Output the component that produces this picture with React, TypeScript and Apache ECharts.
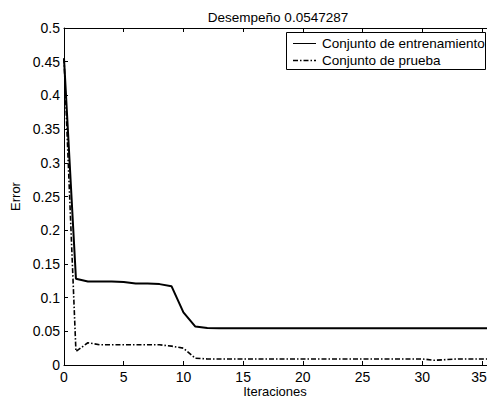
import React, { useEffect, useRef } from "react";
import * as echarts from "echarts";

const iterations = [0, 1, 2, 3, 4, 5, 6, 7, 8, 9, 10, 11, 12, 13, 14, 15, 16, 17, 18, 19, 20, 21, 22, 23, 24, 25, 26, 27, 28, 29, 30, 31, 32, 33, 34, 35, 36];
const trainError = [0.455, 0.128, 0.124, 0.124, 0.124, 0.123, 0.121, 0.121, 0.120, 0.117, 0.078, 0.057, 0.055, 0.0547, 0.0547, 0.0547, 0.0547, 0.0547, 0.0547, 0.0547, 0.0547, 0.0547, 0.0547, 0.0547, 0.0547, 0.0547, 0.0547, 0.0547, 0.0547, 0.0547, 0.0547, 0.0547, 0.0547, 0.0547, 0.0547, 0.0547, 0.0547];
const testError = [0.455, 0.020, 0.033, 0.030, 0.030, 0.030, 0.030, 0.030, 0.030, 0.028, 0.025, 0.010, 0.009, 0.009, 0.009, 0.009, 0.009, 0.009, 0.009, 0.009, 0.009, 0.009, 0.009, 0.009, 0.009, 0.009, 0.009, 0.009, 0.009, 0.009, 0.009, 0.007, 0.008, 0.009, 0.009, 0.009, 0.009];
const seriesNames = ["Conjunto de entrenamiento", "Conjunto de prueba"];
const titleText = "Desempeño 0.0547287";
const xName = "Iteraciones";
const yName = "Error";

export default function App() {
  const ref = useRef<HTMLDivElement>(null);
  useEffect(() => {
    if (!ref.current) return;
    const chart = echarts.init(ref.current, null, { renderer: "svg" });
    const font = "Liberation Sans, Arial, sans-serif";
    const toPairs = (ys: number[]) => iterations.map((x, i) => [x, ys[i]]);
    const dashDot = [5, 2, 1.5, 2];
    chart.setOption({
      animation: false,
      backgroundColor: "#fff",
      textStyle: { fontFamily: font },
      title: {
        text: titleText,
        left: 273,
        top: 5,
        textAlign: "center",
        textStyle: { fontSize: 13.5, fontWeight: "normal", color: "#000", fontFamily: font },
      },
      grid: { left: 64, right: 0, top: 28, bottom: 35, containLabel: false, outerBoundsMode: "none" },
      xAxis: [
        {
          type: "value",
          min: 0,
          max: 35.42,
          interval: 5,
          axisLine: { show: true, lineStyle: { color: "#000", width: 1 } },
          axisTick: { show: true, inside: true, length: 4, lineStyle: { color: "#000" } },
          axisLabel: {
            fontSize: 14,
            color: "#000",
            margin: 5,
            formatter: (v: number) => (v === 35 ? "{e|35}" : String(v)),
            rich: { e: { fontSize: 14, color: "#000", padding: [0, 6, 0, 0] } },
          },
          splitLine: { show: false },
        },
        {
          type: "value",
          position: "top",
          min: 0,
          max: 35.42,
          interval: 5,
          axisLine: { show: true, lineStyle: { color: "#000", width: 1 } },
          axisTick: { show: true, inside: true, length: 4, lineStyle: { color: "#000" } },
          axisLabel: { show: false },
          splitLine: { show: false },
        },
      ],
      yAxis: {
        type: "value",
        min: 0,
        max: 0.5,
        interval: 0.05,
        name: yName,
        nameLocation: "middle",
        nameGap: 38,
        nameTextStyle: { fontSize: 13, color: "#000" },
        axisLine: { show: true, lineStyle: { color: "#000", width: 1 } },
        axisTick: { show: true, inside: true, length: 4, lineStyle: { color: "#000" } },
        axisLabel: {
          fontSize: 14,
          color: "#000",
          margin: 4,
          formatter: (v: number) => String(parseFloat(v.toFixed(2))),
        },
        splitLine: { show: false },
      },
      graphic: [
        {
          type: "text",
          x: 275,
          y: 391,
          style: { text: xName, fill: "#000", font: `13px ${font}`, textAlign: "center", textVerticalAlign: "middle" },
        },
        {
          type: "rect",
          shape: { x: 286.5, y: 32.5, width: 199, height: 37 },
          style: { fill: "#fff", stroke: "#000", lineWidth: 1 },
          z: 10,
        },
        {
          type: "line",
          shape: { x1: 293, y1: 43.5, x2: 316, y2: 43.5 },
          style: { stroke: "#000", lineWidth: 1 },
          z: 11,
        },
        {
          type: "line",
          shape: { x1: 293, y1: 60.5, x2: 316, y2: 60.5 },
          style: { stroke: "#000", lineWidth: 1.6, lineDash: dashDot },
          z: 11,
        },
        {
          type: "text",
          x: 322,
          y: 43,
          style: { text: seriesNames[0], fill: "#000", font: `13.5px ${font}`, textVerticalAlign: "middle" },
          z: 11,
        },
        {
          type: "text",
          x: 322,
          y: 60,
          style: { text: seriesNames[1], fill: "#000", font: `13.5px ${font}`, textVerticalAlign: "middle" },
          z: 11,
        },
      ],
      series: [
        {
          name: seriesNames[0],
          type: "line",
          data: toPairs(trainError),
          symbol: "none",
          lineStyle: { color: "#000", width: 2 },
          itemStyle: { color: "#000" },
        },
        {
          name: seriesNames[1],
          type: "line",
          data: toPairs(testError),
          symbol: "none",
          lineStyle: { color: "#000", width: 1.6, type: dashDot },
          itemStyle: { color: "#000" },
        },
      ],
    });
    return () => chart.dispose();
  }, []);
  return <div ref={ref} style={{ width: 487, height: 400, position: "fixed", left: 0, top: 0 }} />;
}
